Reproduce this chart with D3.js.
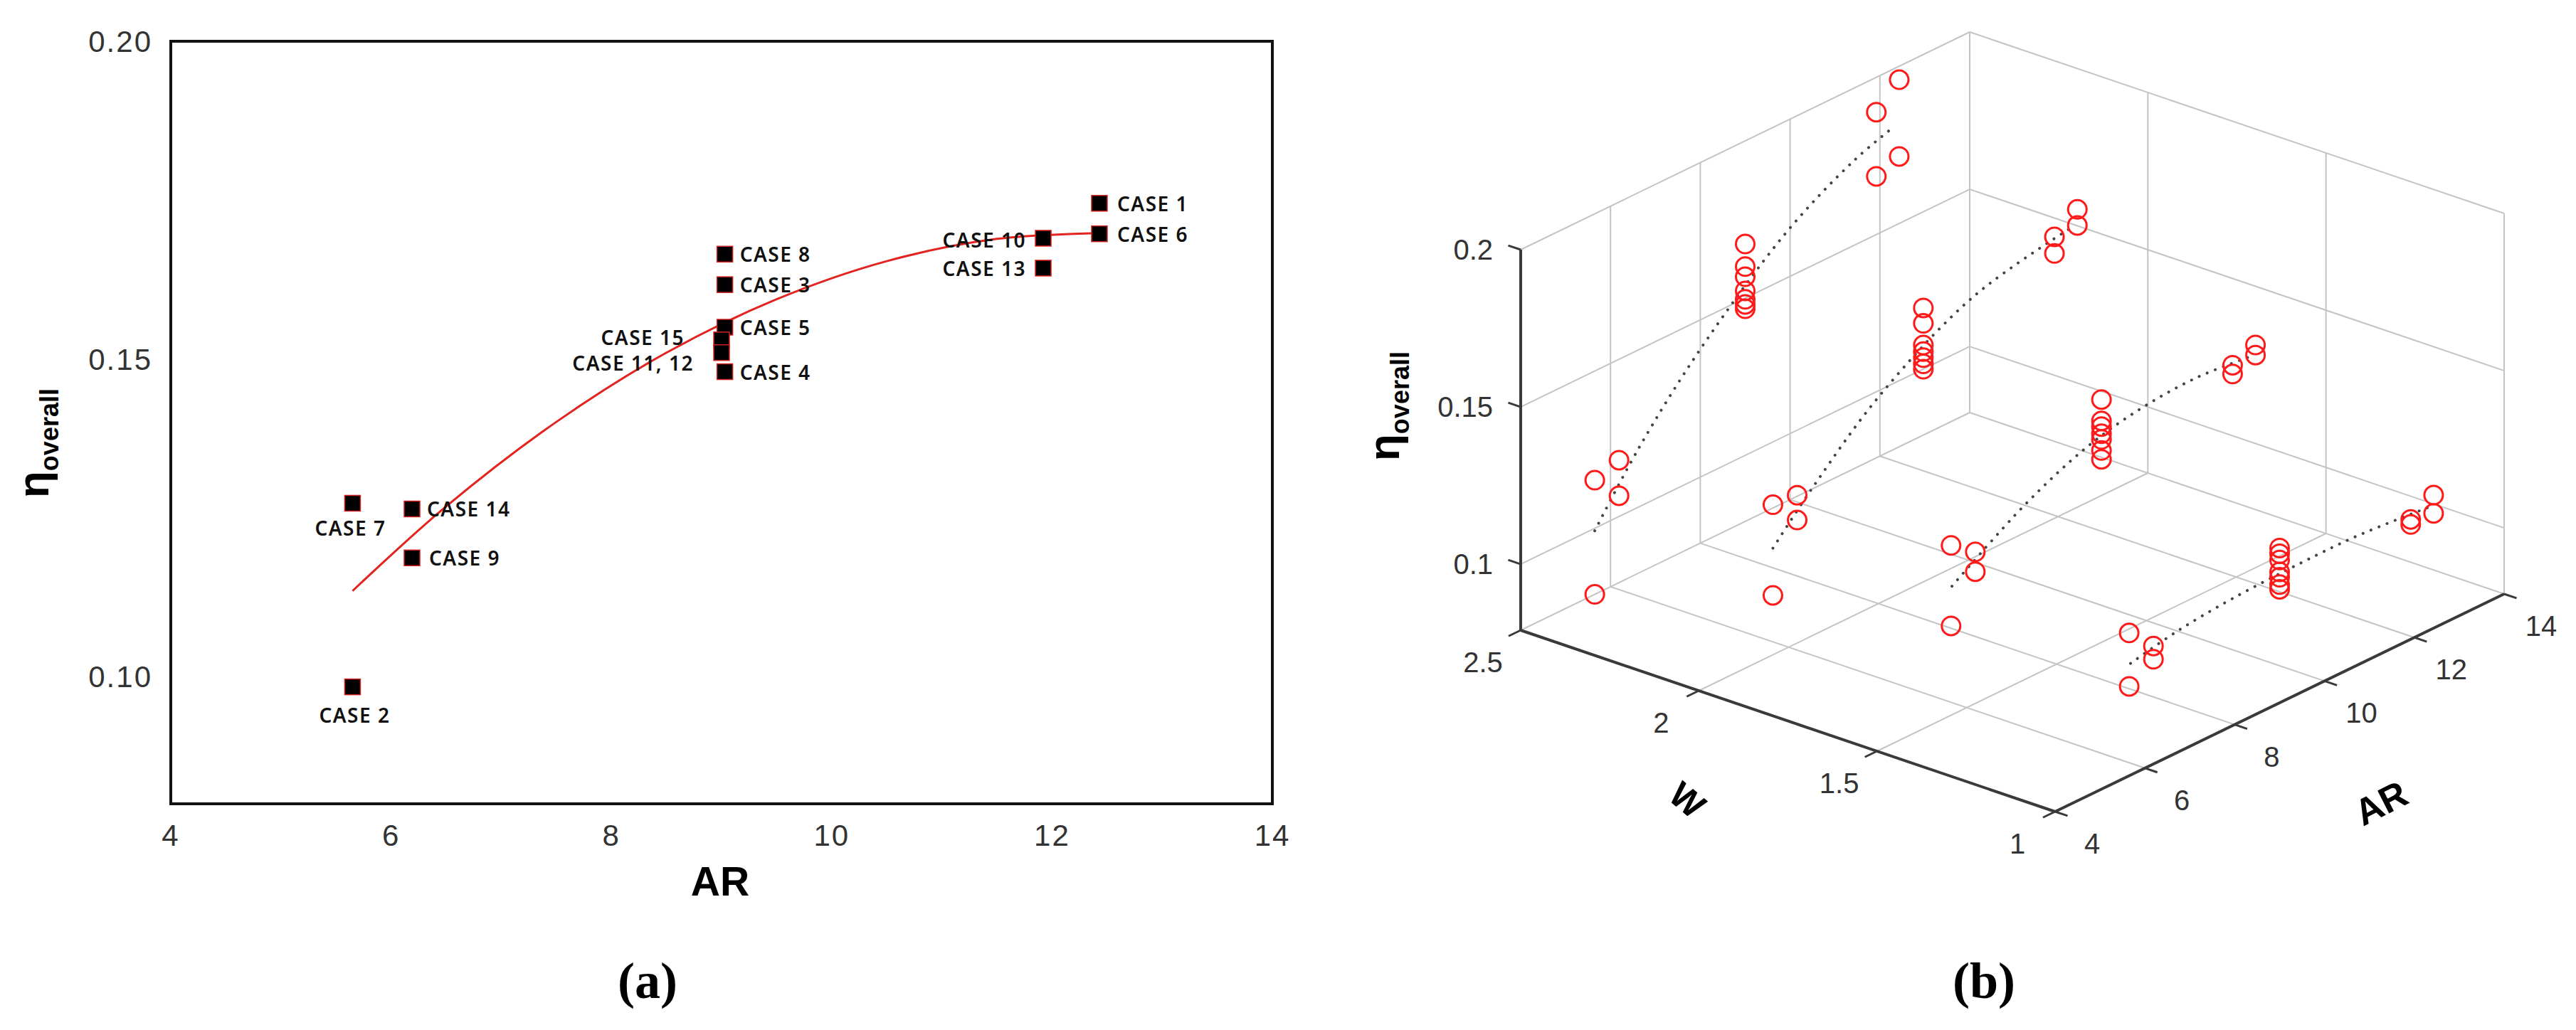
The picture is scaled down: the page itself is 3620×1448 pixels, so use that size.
<!DOCTYPE html>
<html>
<head>
<meta charset="utf-8">
<script src="https://cdn.jsdelivr.net/npm/d3@7"></script>
<style>
  html, body { margin: 0; padding: 0; background: #fff; }
  svg { display: block; }
</style>
</head>
<body>
<svg id="chart" width="3620" height="1448"></svg>
<script>
// ---- panel (a): cases ----
const caseNames = ["CASE 1", "CASE 6", "CASE 10", "CASE 13", "CASE 8", "CASE 3", "CASE 5",
                   "CASE 15", "CASE 11, 12", "CASE 4", "CASE 7", "CASE 14", "CASE 9", "CASE 2"];
const caseAR = [12.43, 12.43, 11.92, 11.92, 9.03, 9.03, 9.03, 9.0, 9.0, 9.03, 5.65, 6.19, 6.19, 5.65];
const caseEta = [0.1745, 0.1697, 0.169, 0.1643, 0.1665, 0.1617, 0.155, 0.153, 0.151, 0.148,
                 0.1273, 0.1264, 0.1187, 0.0984];

// red fitted curve of panel (a)
const fitAR = [5.65, 6.5, 7.5, 8.5, 9.5, 10.5, 11.5, 12.43];
const fitEta = [0.1135, 0.1268, 0.1401, 0.151, 0.1594, 0.1654, 0.1689, 0.1698];

const xTicksA = [4, 6, 8, 10, 12, 14];
const yTicksA = [0.10, 0.15, 0.20];

// ---- panel (b): 3D scatter, one series per W ----
const wLevels = [2.5, 2.0, 1.5, 1.0];
const pointAR = [5.65, 5.65, 6.19, 6.19, 9, 9, 9, 9, 9, 9, 9, 11.92, 11.92, 12.43, 12.43];
const etaW25 = [0.1153, 0.079, 0.1179, 0.1066, 0.1672, 0.160, 0.1568, 0.1523, 0.1496, 0.148, 0.1466, 0.1889, 0.1685, 0.1957, 0.1713];
const etaW20 = [0.1267, 0.0979, 0.126, 0.1181, 0.1661, 0.1612, 0.1543, 0.1522, 0.1503, 0.1483, 0.1466, 0.1685, 0.1632, 0.1737, 0.1686];
const etaW15 = [0.133, 0.1074, 0.1272, 0.1209, 0.1562, 0.1494, 0.1476, 0.1453, 0.1435, 0.140, 0.1372, 0.1469, 0.1441, 0.1498, 0.1466];
const etaW10 = [0.1244, 0.1074, 0.1165, 0.1123, 0.1282, 0.1264, 0.1244, 0.1206, 0.1189, 0.1166, 0.1151, 0.1171, 0.1155, 0.1213, 0.1155];

// dotted trend lines in panel (b)
const trendARW25 = [5.65, 6.63, 8.01, 9.94, 11.43, 12.3];
const trendEtaW25 = [0.0992, 0.1187, 0.1408, 0.1648, 0.177, 0.1815];
const trendARW20 = [5.65, 6.58, 8.06, 10.14, 12.38];
const trendEtaW20 = [0.1129, 0.1267, 0.1453, 0.1621, 0.169];
const trendARW15 = [5.67, 7.29, 8.69, 9.9, 11.12, 12.33];
const trendEtaW15 = [0.1199, 0.1345, 0.1434, 0.1473, 0.1485, 0.1469];
const trendARW10 = [5.68, 6.7, 7.94, 9.53, 10.74, 12.32];
const trendEtaW10 = [0.1145, 0.1175, 0.1194, 0.1202, 0.1201, 0.1182];

const arTicksB = [4, 6, 8, 10, 12, 14];
const wTicksB = [2.5, 2, 1.5, 1];
const zTicksB = [0.1, 0.15, 0.2];

const svg = d3.select("#chart");

// ================= panel (a) =================
const x = d3.scaleLinear().domain([4, 14]).range([240, 1788]);
const y = d3.scaleLinear().domain([0.08, 0.20]).range([1130, 58]);

const gA = svg.append("g");

// frame
gA.append("rect")
    .attr("x", x(4)).attr("y", y(0.20))
    .attr("width", x(14) - x(4)).attr("height", y(0.08) - y(0.20))
    .attr("fill", "none").attr("stroke", "#111").attr("stroke-width", 4);

// tick labels (no tick marks in the original)
gA.append("g").selectAll("text")
    .data(xTicksA).enter().append("text")
    .attr("x", d => x(d)).attr("y", 1189)
    .attr("text-anchor", "middle")
    .attr("font-family", "Liberation Sans, Arial, sans-serif")
    .attr("font-size", 42).attr("letter-spacing", 2)
    .attr("fill", "#333")
    .text(d => d);

gA.append("g").selectAll("text")
    .data(yTicksA).enter().append("text")
    .attr("x", 214).attr("y", d => y(d) + 15)
    .attr("text-anchor", "end")
    .attr("font-family", "Liberation Sans, Arial, sans-serif")
    .attr("font-size", 42).attr("letter-spacing", 2)
    .attr("fill", "#333")
    .text(d => d3.format(".2f")(d));

// axis titles
gA.append("text")
    .attr("x", 1012).attr("y", 1259)
    .attr("text-anchor", "middle")
    .attr("font-family", "Liberation Sans, Arial, sans-serif")
    .attr("font-weight", "bold").attr("font-size", 57)
    .text("AR");

const etaA = gA.append("text")
    .attr("transform", "translate(68,700) rotate(-90)")
    .attr("font-family", "Liberation Sans, Arial, sans-serif")
    .attr("font-weight", "bold").attr("font-size", 62);
etaA.append("tspan").text("η");
etaA.append("tspan").attr("dy", 14).attr("font-size", 36).text("overall");

// fitted curve
const fitLine = d3.line()
    .x(d => x(d[0])).y(d => y(d[1]))
    .curve(d3.curveCatmullRom);
gA.append("path")
    .datum(d3.zip(fitAR, fitEta))
    .attr("d", fitLine)
    .attr("fill", "none").attr("stroke", "#e3231f").attr("stroke-width", 3);

// markers
const caseData = caseNames.map((n, i) => ({ name: n, ar: caseAR[i], eta: caseEta[i] }));
gA.append("g").selectAll("rect")
    .data(caseData).enter().append("rect")
    .attr("x", d => x(d.ar) - 11).attr("y", d => y(d.eta) - 11)
    .attr("width", 22).attr("height", 22)
    .attr("fill", "#000").attr("stroke", "#d42020").attr("stroke-width", 1.5);

// label placement for each case (anchor, dx, dy)
const labelAnchor = ["start", "start", "end", "end", "start", "start", "start", "end", "end", "start", "middle", "start", "start", "middle"];
const labelDx = [25, 25, -24, -24, 21, 21, 21, -52, -39, 21, -3, 21, 24, 3];
const labelDy = [0, 0, 2, 0, 0, 0, 0, -4, 14, 0, 35, 0, 0, 39];

gA.append("g").selectAll("text")
    .data(caseData).enter().append("text")
    .attr("x", (d, i) => x(d.ar) + labelDx[i])
    .attr("y", (d, i) => y(d.eta) + labelDy[i])
    .attr("dominant-baseline", "central")
    .attr("text-anchor", (d, i) => labelAnchor[i])
    .attr("font-family", "Noto Sans, sans-serif")
    .attr("font-weight", 600).attr("font-size", 28).attr("letter-spacing", 1.5)
    .attr("fill", "#111")
    .text(d => d.name);

// panel tag
svg.append("text")
    .attr("x", 910).attr("y", 1403)
    .attr("text-anchor", "middle")
    .attr("font-family", "Liberation Serif, DejaVu Serif, serif")
    .attr("font-weight", "bold").attr("font-size", 72)
    .text("(a)");

// ================= panel (b) =================
// oblique projection built from linear scales (origin = AR 4, W 1, eta min)
const arX = d3.scaleLinear().domain([4, 14]).range([0, 631]);
const arY = d3.scaleLinear().domain([4, 14]).range([0, -306]);
const wX = d3.scaleLinear().domain([1, 2.5]).range([0, -751]);
const wY = d3.scaleLinear().domain([1, 2.5]).range([0, -255]);
const zY = d3.scaleLinear().domain([0.079, 0.2]).range([0, -535]);
const ox = 2888, oy = 1141;
const zMin = 0.079, zMax = 0.2;

function proj(ar, w, z) {
    return [ox + arX(ar) + wX(w), oy + arY(ar) + wY(w) + zY(z)];
}

const gB = svg.append("g");
const gridColor = "#c4c4c4";

function seg(g, a, b, color, width) {
    g.append("line")
        .attr("x1", a[0]).attr("y1", a[1])
        .attr("x2", b[0]).attr("y2", b[1])
        .attr("stroke", color).attr("stroke-width", width);
}

const grid = gB.append("g");
// back wall (W = 2.5)
arTicksB.slice(1).forEach(a => seg(grid, proj(a, 2.5, zMin), proj(a, 2.5, zMax), gridColor, 2));
zTicksB.forEach(z => seg(grid, proj(4, 2.5, z), proj(14, 2.5, z), gridColor, 2));
seg(grid, proj(4, 2.5, zMin), proj(14, 2.5, zMin), gridColor, 2);
// side wall (AR = 14)
wTicksB.slice(1).forEach(w => seg(grid, proj(14, w, zMin), proj(14, w, zMax), gridColor, 2));
zTicksB.forEach(z => seg(grid, proj(14, 1, z), proj(14, 2.5, z), gridColor, 2));
// floor
arTicksB.slice(1).forEach(a => seg(grid, proj(a, 1, zMin), proj(a, 2.5, zMin), gridColor, 2));
wTicksB.slice(1, 3).forEach(w => seg(grid, proj(4, w, zMin), proj(14, w, zMin), gridColor, 2));

// axes lines
const axisColor = "#3a3a3a";
const axes = gB.append("g");
seg(axes, proj(4, 2.5, zMin), proj(4, 2.5, zMax), axisColor, 4);
seg(axes, proj(4, 2.5, zMin), proj(4, 1, zMin), axisColor, 4);
seg(axes, proj(4, 1, zMin), proj(14, 1, zMin), axisColor, 4);

// ticks
zTicksB.forEach(z => seg(axes, proj(4, 2.5, z), proj(4, 2.535, z), axisColor, 3));
wTicksB.forEach(w => seg(axes, proj(4, w, zMin), proj(3.73, w, zMin), axisColor, 3));
arTicksB.forEach(a => seg(axes, proj(a, 1, zMin), proj(a, 0.965, zMin), axisColor, 3));

// tick labels
const tickFont = "Liberation Sans, Arial, sans-serif";
gB.append("g").selectAll("text")
    .data(zTicksB).enter().append("text")
    .attr("x", 2098).attr("y", d => proj(4, 2.5, d)[1])
    .attr("dominant-baseline", "central").attr("text-anchor", "end")
    .attr("font-family", tickFont).attr("font-size", 40).attr("fill", "#333")
    .text(d => d);

gB.append("g").selectAll("text")
    .data(wTicksB).enter().append("text")
    .attr("x", d => proj(4, d, zMin)[0] - 53).attr("y", d => proj(4, d, zMin)[1] + 45)
    .attr("dominant-baseline", "central").attr("text-anchor", "middle")
    .attr("font-family", tickFont).attr("font-size", 40).attr("fill", "#333")
    .text(d => d);

gB.append("g").selectAll("text")
    .data(arTicksB).enter().append("text")
    .attr("x", d => proj(d, 1, zMin)[0] + 52).attr("y", d => proj(d, 1, zMin)[1] + 45)
    .attr("dominant-baseline", "central").attr("text-anchor", "middle")
    .attr("font-family", tickFont).attr("font-size", 40).attr("fill", "#333")
    .text(d => d);

// axis titles
gB.append("text")
    .attr("transform", "translate(2371,1125) rotate(40)")
    .attr("dominant-baseline", "central").attr("text-anchor", "middle")
    .attr("font-family", tickFont).attr("font-weight", "bold").attr("font-size", 50)
    .text("W");

gB.append("text")
    .attr("transform", "translate(3346,1129) rotate(-27)")
    .attr("dominant-baseline", "central").attr("text-anchor", "middle")
    .attr("font-family", tickFont).attr("font-weight", "bold").attr("font-size", 52)
    .text("AR");

const etaB = gB.append("text")
    .attr("transform", "translate(1966,648) rotate(-90)")
    .attr("font-family", tickFont)
    .attr("font-weight", "bold").attr("font-size", 62);
etaB.append("tspan").text("η");
etaB.append("tspan").attr("dy", 14).attr("font-size", 36).text("overall");

// dotted trend lines
const trends = [
    d3.zip(trendARW25, trendEtaW25),
    d3.zip(trendARW20, trendEtaW20),
    d3.zip(trendARW15, trendEtaW15),
    d3.zip(trendARW10, trendEtaW10)
];
const trendLine = (w) => d3.line()
    .x(d => proj(d[0], w, d[1])[0])
    .y(d => proj(d[0], w, d[1])[1])
    .curve(d3.curveCatmullRom);

gB.append("g").selectAll("path")
    .data(trends).enter().append("path")
    .attr("d", (d, i) => trendLine(wLevels[i])(d))
    .attr("fill", "none").attr("stroke", "#444")
    .attr("stroke-width", 4).attr("stroke-linecap", "round")
    .attr("stroke-dasharray", "0.1 12");

// circles
const etaSets = [etaW25, etaW20, etaW15, etaW10];
const pts = [];
etaSets.forEach((set, k) => set.forEach((e, i) => pts.push({ ar: pointAR[i], w: wLevels[k], eta: e })));

gB.append("g").selectAll("circle")
    .data(pts).enter().append("circle")
    .attr("cx", d => proj(d.ar, d.w, d.eta)[0])
    .attr("cy", d => proj(d.ar, d.w, d.eta)[1])
    .attr("r", 13)
    .attr("fill", "none").attr("stroke", "#ff1a1a").attr("stroke-width", 3);

// panel tag
svg.append("text")
    .attr("x", 2788).attr("y", 1403)
    .attr("text-anchor", "middle")
    .attr("font-family", "Liberation Serif, DejaVu Serif, serif")
    .attr("font-weight", "bold").attr("font-size", 72)
    .text("(b)");
</script>
</body>
</html>
